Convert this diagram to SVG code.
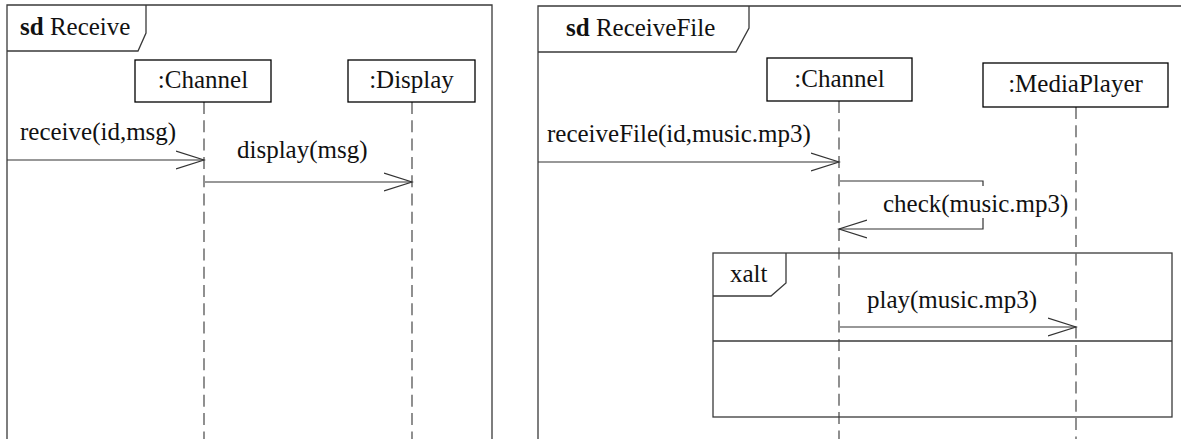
<svg xmlns="http://www.w3.org/2000/svg" width="1181" height="439" viewBox="0 0 1181 439">
  <style>
    .frame { fill: none; stroke: #3a3a3a; stroke-width: 1.3; }
    .box { fill: #fff; stroke: #000; stroke-width: 1.3; }
    .life { fill: none; stroke: #555; stroke-width: 1.3; stroke-dasharray: 12 6.3; }
    .msg { fill: none; stroke: #333; stroke-width: 1.2; }
    .t { font-family: 'Liberation Serif', 'DejaVu Serif', serif; font-size: 25px; fill: #111; }
    .mid { text-anchor: middle; }
    .kw { font-weight: bold; }
  </style>
  <defs>
    <marker id="open" viewBox="0 0 30 20" refX="28" refY="10" markerWidth="30" markerHeight="20" markerUnits="userSpaceOnUse" orient="auto">
      <path d="M0,1 L28,10 L0,19" fill="none" stroke="#333" stroke-width="1.2"/>
    </marker>
  </defs>
  <rect width="1181" height="439" fill="#fff"/>

  <!-- sd Receive -->
  <g id="frame-receive">
    <path class="frame" d="M7,439 V5 H492 V439"/>
    <path class="frame" d="M146,5 V33 L138,51 H7"/>
    <text class="t" x="20" y="35" font-family="Liberation Serif, serif"><tspan class="kw">sd</tspan> Receive</text>
  </g>
  <g id="lifeline-channel-1">
    <line class="life" x1="204" y1="102" x2="204" y2="439"/>
    <rect class="box" x="135" y="60" width="136" height="42"/>
    <text class="t mid" x="203" y="88" font-family="Liberation Serif, serif">:Channel</text>
  </g>
  <g id="lifeline-display">
    <line class="life" x1="412" y1="102" x2="412" y2="439"/>
    <rect class="box" x="348" y="60" width="127" height="42"/>
    <text class="t mid" x="411.5" y="88" font-family="Liberation Serif, serif">:Display</text>
  </g>

  <!-- sd ReceiveFile -->
  <g id="frame-receivefile">
    <path class="frame" d="M538,439 V6 H1181"/>
    <path class="frame" d="M749,6 V28 L736,52 H538"/>
    <text class="t" x="566" y="36" font-family="Liberation Serif, serif"><tspan class="kw">sd</tspan> ReceiveFile</text>
  </g>
  <g id="lifeline-channel-2">
    <line class="life" x1="839" y1="101" x2="839" y2="439"/>
    <rect class="box" x="767" y="58" width="145" height="43"/>
    <text class="t mid" x="839.5" y="87" font-family="Liberation Serif, serif">:Channel</text>
  </g>
  <g id="lifeline-mediaplayer">
    <line class="life" x1="1076" y1="107" x2="1076" y2="439"/>
    <rect class="box" x="983" y="63" width="185" height="44"/>
    <text class="t mid" x="1075.5" y="92" font-family="Liberation Serif, serif">:MediaPlayer</text>
  </g>
  <g id="fragment-xalt">
    <rect class="frame" x="713" y="253" width="459" height="164"/>
    <path class="frame" d="M713,296 H771 L786,283 V253"/>
    <line class="frame" x1="713" y1="341" x2="1172" y2="341"/>
    <text class="t" x="730" y="282" font-family="Liberation Serif, serif">xalt</text>
  </g>

  <!-- messages -->
  <g id="connectors">
    <line class="msg" x1="7" y1="160" x2="204" y2="160" marker-end="url(#open)"/>
    <text class="t" x="20" y="140" font-family="Liberation Serif, serif">receive(id,msg)</text>
    <line class="msg" x1="205" y1="182" x2="412" y2="182" marker-end="url(#open)"/>
    <text class="t" x="237" y="158" font-family="Liberation Serif, serif">display(msg)</text>

    <line class="msg" x1="538" y1="162" x2="839" y2="162" marker-end="url(#open)"/>
    <text class="t" x="547" y="142" font-family="Liberation Serif, serif">receiveFile(id,music.mp3)</text>

    <path class="msg" d="M840,181 H983 V229 H839" marker-end="url(#open)"/>
    <rect x="880" y="186" width="192" height="32" fill="#fff"/>
    <text class="t" x="883" y="212" font-family="Liberation Serif, serif">check(music.mp3)</text>

    <line class="msg" x1="840" y1="327" x2="1076" y2="327" marker-end="url(#open)"/>
    <text class="t" x="867" y="308" font-family="Liberation Serif, serif">play(music.mp3)</text>
  </g>
</svg>
